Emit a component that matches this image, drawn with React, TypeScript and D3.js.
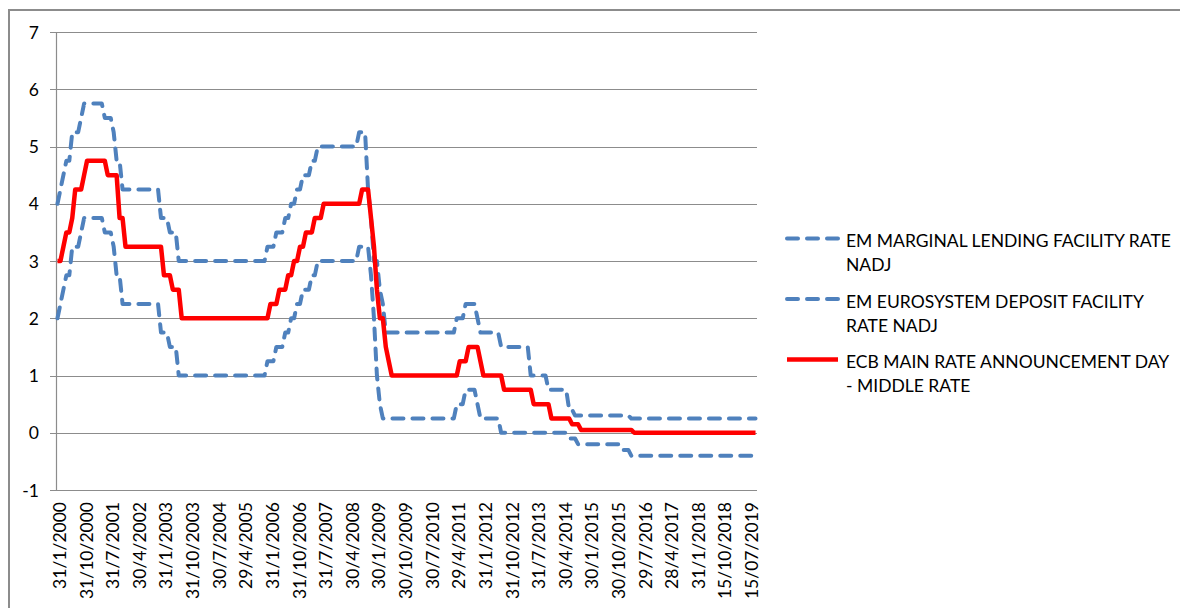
import React from 'react';
import * as d3 from 'd3';

// Monthly values, Jan 2000 .. Sep 2019 (one row per year)
const marginalLendingRate = [
  4, 4.25, 4.5, 4.75, 4.75, 5.25, 5.25, 5.25, 5.5, 5.75, 5.75, 5.75,
  5.75, 5.75, 5.75, 5.75, 5.5, 5.5, 5.5, 5.25, 4.75, 4.75, 4.25, 4.25,
  4.25, 4.25, 4.25, 4.25, 4.25, 4.25, 4.25, 4.25, 4.25, 4.25, 4.25, 3.75,
  3.75, 3.75, 3.5, 3.5, 3.5, 3, 3, 3, 3, 3, 3, 3,
  3, 3, 3, 3, 3, 3, 3, 3, 3, 3, 3, 3,
  3, 3, 3, 3, 3, 3, 3, 3, 3, 3, 3, 3.25,
  3.25, 3.25, 3.5, 3.5, 3.5, 3.75, 3.75, 4, 4, 4.25, 4.25, 4.5,
  4.5, 4.5, 4.75, 4.75, 5, 5, 5, 5, 5, 5, 5, 5,
  5, 5, 5, 5, 5, 5, 5.25, 5.25, 5.25, 4.25, 3.75, 3,
  3, 2.5, 2.25, 1.75, 1.75, 1.75, 1.75, 1.75, 1.75, 1.75, 1.75, 1.75,
  1.75, 1.75, 1.75, 1.75, 1.75, 1.75, 1.75, 1.75, 1.75, 1.75, 1.75, 1.75,
  1.75, 1.75, 1.75, 2, 2, 2, 2.25, 2.25, 2.25, 2.25, 2, 1.75,
  1.75, 1.75, 1.75, 1.75, 1.75, 1.75, 1.5, 1.5, 1.5, 1.5, 1.5, 1.5,
  1.5, 1.5, 1.5, 1.5, 1, 1, 1, 1, 1, 1, 0.75, 0.75,
  0.75, 0.75, 0.75, 0.75, 0.75, 0.4, 0.4, 0.3, 0.3, 0.3, 0.3, 0.3,
  0.3, 0.3, 0.3, 0.3, 0.3, 0.3, 0.3, 0.3, 0.3, 0.3, 0.3, 0.3,
  0.3, 0.3, 0.25, 0.25, 0.25, 0.25, 0.25, 0.25, 0.25, 0.25, 0.25, 0.25,
  0.25, 0.25, 0.25, 0.25, 0.25, 0.25, 0.25, 0.25, 0.25, 0.25, 0.25, 0.25,
  0.25, 0.25, 0.25, 0.25, 0.25, 0.25, 0.25, 0.25, 0.25, 0.25, 0.25, 0.25,
  0.25, 0.25, 0.25, 0.25, 0.25, 0.25, 0.25, 0.25, 0.25,
];

const depositRate = [
  2, 2.25, 2.5, 2.75, 2.75, 3.25, 3.25, 3.25, 3.5, 3.75, 3.75, 3.75,
  3.75, 3.75, 3.75, 3.75, 3.5, 3.5, 3.5, 3.25, 2.75, 2.75, 2.25, 2.25,
  2.25, 2.25, 2.25, 2.25, 2.25, 2.25, 2.25, 2.25, 2.25, 2.25, 2.25, 1.75,
  1.75, 1.75, 1.5, 1.5, 1.5, 1, 1, 1, 1, 1, 1, 1,
  1, 1, 1, 1, 1, 1, 1, 1, 1, 1, 1, 1,
  1, 1, 1, 1, 1, 1, 1, 1, 1, 1, 1, 1.25,
  1.25, 1.25, 1.5, 1.5, 1.5, 1.75, 1.75, 2, 2, 2.25, 2.25, 2.5,
  2.5, 2.5, 2.75, 2.75, 3, 3, 3, 3, 3, 3, 3, 3,
  3, 3, 3, 3, 3, 3, 3.25, 3.25, 3.25, 3.25, 2.75, 2,
  1, 0.5, 0.25, 0.25, 0.25, 0.25, 0.25, 0.25, 0.25, 0.25, 0.25, 0.25,
  0.25, 0.25, 0.25, 0.25, 0.25, 0.25, 0.25, 0.25, 0.25, 0.25, 0.25, 0.25,
  0.25, 0.25, 0.25, 0.5, 0.5, 0.5, 0.75, 0.75, 0.75, 0.75, 0.5, 0.25,
  0.25, 0.25, 0.25, 0.25, 0.25, 0.25, 0, 0, 0, 0, 0, 0,
  0, 0, 0, 0, 0, 0, 0, 0, 0, 0, 0, 0,
  0, 0, 0, 0, 0, -0.1, -0.1, -0.1, -0.2, -0.2, -0.2, -0.2,
  -0.2, -0.2, -0.2, -0.2, -0.2, -0.2, -0.2, -0.2, -0.2, -0.2, -0.2, -0.3,
  -0.3, -0.3, -0.4, -0.4, -0.4, -0.4, -0.4, -0.4, -0.4, -0.4, -0.4, -0.4,
  -0.4, -0.4, -0.4, -0.4, -0.4, -0.4, -0.4, -0.4, -0.4, -0.4, -0.4, -0.4,
  -0.4, -0.4, -0.4, -0.4, -0.4, -0.4, -0.4, -0.4, -0.4, -0.4, -0.4, -0.4,
  -0.4, -0.4, -0.4, -0.4, -0.4, -0.4, -0.4, -0.4, -0.5,
];

const mainRate = [
  3, 3, 3.25, 3.5, 3.5, 3.75, 4.25, 4.25, 4.25, 4.5, 4.75, 4.75,
  4.75, 4.75, 4.75, 4.75, 4.75, 4.5, 4.5, 4.5, 4.5, 3.75, 3.75, 3.25,
  3.25, 3.25, 3.25, 3.25, 3.25, 3.25, 3.25, 3.25, 3.25, 3.25, 3.25, 3.25,
  2.75, 2.75, 2.75, 2.5, 2.5, 2.5, 2, 2, 2, 2, 2, 2,
  2, 2, 2, 2, 2, 2, 2, 2, 2, 2, 2, 2,
  2, 2, 2, 2, 2, 2, 2, 2, 2, 2, 2, 2,
  2.25, 2.25, 2.25, 2.5, 2.5, 2.5, 2.75, 2.75, 3, 3, 3.25, 3.25,
  3.5, 3.5, 3.5, 3.75, 3.75, 3.75, 4, 4, 4, 4, 4, 4,
  4, 4, 4, 4, 4, 4, 4, 4.25, 4.25, 4.25, 3.75, 3.25,
  2.5, 2, 2, 1.5, 1.25, 1, 1, 1, 1, 1, 1, 1,
  1, 1, 1, 1, 1, 1, 1, 1, 1, 1, 1, 1,
  1, 1, 1, 1, 1.25, 1.25, 1.25, 1.5, 1.5, 1.5, 1.5, 1.25,
  1, 1, 1, 1, 1, 1, 1, 0.75, 0.75, 0.75, 0.75, 0.75,
  0.75, 0.75, 0.75, 0.75, 0.75, 0.5, 0.5, 0.5, 0.5, 0.5, 0.5, 0.25,
  0.25, 0.25, 0.25, 0.25, 0.25, 0.25, 0.15, 0.15, 0.15, 0.05, 0.05, 0.05,
  0.05, 0.05, 0.05, 0.05, 0.05, 0.05, 0.05, 0.05, 0.05, 0.05, 0.05, 0.05,
  0.05, 0.05, 0.05, 0, 0, 0, 0, 0, 0, 0, 0, 0,
  0, 0, 0, 0, 0, 0, 0, 0, 0, 0, 0, 0,
  0, 0, 0, 0, 0, 0, 0, 0, 0, 0, 0, 0,
  0, 0, 0, 0, 0, 0, 0, 0, 0,
];

const tickLabels = [
  '31/1/2000', '31/10/2000', '31/7/2001', '30/4/2002', '31/1/2003', '31/10/2003',
  '30/7/2004', '29/4/2005', '31/1/2006', '31/10/2006', '31/7/2007', '30/4/2008',
  '30/1/2009', '30/10/2009', '30/7/2010', '29/4/2011', '31/1/2012', '31/10/2012',
  '31/7/2013', '30/4/2014', '30/1/2015', '30/10/2015', '29/7/2016', '28/4/2017',
  '31/1/2018', '15/10/2018', '15/07/2019',
];
const tickStep = 9;
const yTicks = [-1, 0, 1, 2, 3, 4, 5, 6, 7];

const seriesNames = [
  ['EM MARGINAL LENDING FACILITY RATE', 'NADJ'],
  ['EM EUROSYSTEM DEPOSIT FACILITY', 'RATE NADJ'],
  ['ECB MAIN RATE ANNOUNCEMENT DAY', '- MIDDLE RATE'],
];
const seriesColors = ['#4F81BD', '#4F81BD', '#FF0000'];
const seriesDashed = [true, true, false];

const FONT = "Lato, 'Open Sans', sans-serif";
const GRID = '#8C8C8C';

export default function App() {
  const W = 1180;
  const H = 608;
  const left = 56;
  const right = 757;
  const top = 32;
  const bottom = 490;
  const n = mainRate.length;

  const x = d3.scaleBand<number>().domain(d3.range(n)).range([left, right]);
  const cx = (i: number) => (x(i) as number) + x.bandwidth() / 2;
  const y = d3.scaleLinear().domain([-1, 7]).range([bottom, top]);
  const line = d3
    .line<number>()
    .x((_, i) => cx(i))
    .y((d) => y(d));

  const series = [marginalLendingRate, depositRate, mainRate];

  const legendX1 = 787;
  const legendX2 = 838;
  const legendTextX = 846;
  const legendY0 = 238.5;
  const legendGap = 60.5;

  return (
    <svg
      width={W}
      height={H}
      style={{ position: 'absolute', left: 0, top: 0, background: '#fff' }}
      fontFamily={FONT}
    >
      <rect x={0} y={0} width={W} height={H} fill="#fff" />
      {/* outer chart border */}
      <path d={`M9,${H + 5} V10 H${W + 5}`} fill="none" stroke={GRID} strokeWidth={2} />

      {/* gridlines */}
      {yTicks.map((t) => (
        <line
          key={t}
          x1={left - 6}
          x2={right}
          y1={Math.round(y(t)) + 0.5}
          y2={Math.round(y(t)) + 0.5}
          stroke={GRID}
          strokeWidth={1.2}
        />
      ))}
      {/* y axis line */}
      <line x1={left + 0.5} x2={left + 0.5} y1={top} y2={bottom + 1} stroke={GRID} strokeWidth={1.2} />

      {/* y tick labels */}
      {yTicks.map((t) => (
        <text
          key={t}
          x={39}
          y={y(t)}
          textAnchor="end"
          dominantBaseline="central"
          fontSize={17.5}
          fill="#000"
        >
          {t}
        </text>
      ))}

      {/* x tick labels */}
      {tickLabels.map((lab, k) => {
        const i = k * tickStep;
        return (
          <text
            key={lab}
            transform={`translate(${cx(i) + 2},${502}) rotate(-90)`}
            textAnchor="end"
            dominantBaseline="central"
            fontSize={17.5}
            fill="#000"
          >
            {lab}
          </text>
        );
      })}

      {/* series */}
      {series.map((s, k) => (
        <path
          key={k}
          d={line(s) || ''}
          fill="none"
          stroke={seriesColors[k]}
          strokeWidth={seriesDashed[k] ? 4 : 4.5}
          strokeDasharray={seriesDashed[k] ? '11 9' : undefined}
          strokeLinecap={seriesDashed[k] ? 'round' : 'butt'}
          strokeLinejoin="round"
        />
      ))}

      {/* legend */}
      {seriesNames.map((lines, k) => {
        const ly = legendY0 + k * legendGap;
        return (
          <g key={k}>
            <line
              x1={legendX1}
              x2={legendX2}
              y1={ly}
              y2={ly}
              stroke={seriesColors[k]}
              strokeWidth={seriesDashed[k] ? 4 : 4.5}
              strokeDasharray={seriesDashed[k] ? '11 9' : undefined}
              strokeLinecap={seriesDashed[k] ? 'round' : 'butt'}
            />
            {lines.map((t, j) => (
              <text key={j} x={legendTextX} y={ly + 8.5 + j * 24} fontSize={17.5} fill="#000">
                {t}
              </text>
            ))}
          </g>
        );
      })}
    </svg>
  );
}
